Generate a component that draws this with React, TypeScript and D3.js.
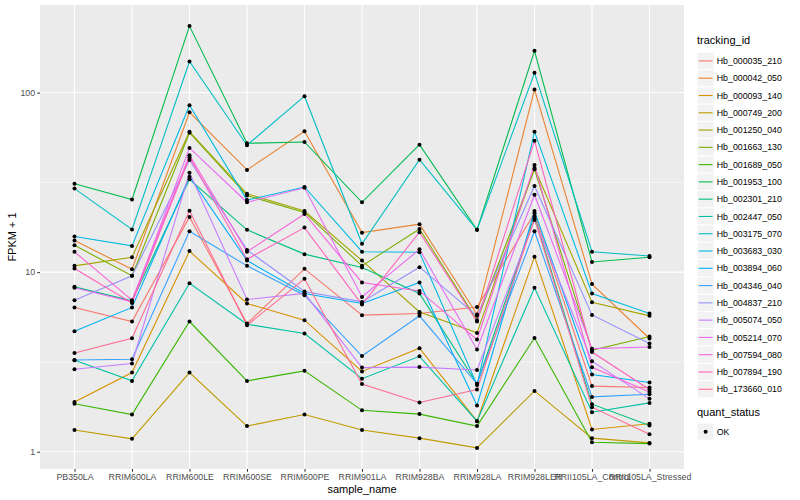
import React, { useEffect, useRef } from 'react';
import * as d3 from 'd3';

const sampleNames = [
  'PB350LA', 'RRIM600LA', 'RRIM600LE', 'RRIM600SE', 'RRIM600PE', 'RRIM901LA',
  'RRIM928BA', 'RRIM928LA', 'RRIM928LER', 'RRII105LA_Control', 'RRII105LA_Stressed',
];

const trackingIds = [
  'Hb_000035_210', 'Hb_000042_050', 'Hb_000093_140', 'Hb_000749_200', 'Hb_001250_040',
  'Hb_001663_130', 'Hb_001689_050', 'Hb_001953_100', 'Hb_002301_210', 'Hb_002447_050',
  'Hb_003175_070', 'Hb_003683_030', 'Hb_003894_060', 'Hb_004346_040', 'Hb_004837_210',
  'Hb_005074_050', 'Hb_005214_070', 'Hb_007594_080', 'Hb_007894_190', 'Hb_173660_010',
];

// FPKM per tracking id (rows), one value per sample (columns)
const fpkm: number[][] = [
  [5.36, 4.31, 19.3, 4.17, 9.43, 4.76, 4.89, 5.40, 20.3, 1.32, 1.28],
  [14.0, 9.39, 76.7, 36.1, 59.9, 15.6, 17.5, 4.81, 102.9, 7.58, 3.27],
  [0.89, 1.76, 12.1, 5.69, 4.40, 1.80, 2.77, 0.48, 11.2, 0.33, 0.43],
  [0.32, 0.18, 1.76, 0.39, 0.61, 0.32, 0.19, 0.05, 1.18, 0.19, 0.12],
  [9.84, 11.1, 59.6, 26.3, 20.9, 10.6, 5.00, 3.59, 37.0, 5.80, 4.71],
  [13.1, 8.54, 58.8, 25.7, 20.5, 9.84, 16.4, 4.40, 36.4, 2.67, 3.38],
  [0.85, 0.61, 4.31, 1.48, 1.82, 0.70, 0.62, 0.39, 3.30, 0.13, 0.11],
  [30.1, 24.4, 233.6, 51.2, 52.1, 23.5, 50.3, 16.2, 169.8, 10.4, 11.1],
  [7.28, 5.92, 31.9, 16.2, 11.6, 9.62, 6.61, 1.39, 19.5, 0.84, 0.40],
  [2.23, 1.48, 7.68, 4.13, 3.55, 1.55, 2.40, 0.48, 7.18, 0.66, 0.87],
  [28.2, 16.3, 147.9, 49.9, 94.5, 13.4, 41.3, 16.2, 127.8, 12.0, 11.3],
  [14.8, 13.0, 84.1, 24.2, 28.8, 12.0, 11.9, 1.35, 59.6, 6.61, 4.89],
  [3.69, 5.36, 33.0, 10.6, 6.61, 5.69, 7.76, 0.81, 20.9, 1.69, 1.43],
  [2.24, 2.27, 15.9, 9.84, 6.44, 2.41, 4.71, 1.39, 15.9, 1.02, 1.09],
  [5.98, 8.54, 41.1, 12.3, 6.80, 5.83, 9.66, 4.71, 29.2, 4.78, 3.00],
  [1.88, 2.10, 34.8, 6.04, 6.61, 1.94, 1.96, 1.85, 18.5, 2.19, 0.97],
  [7.18, 5.83, 48.2, 23.5, 28.5, 6.28, 12.4, 2.71, 26.0, 2.75, 2.83],
  [11.98, 5.98, 43.8, 11.98, 20.1, 7.76, 6.86, 3.21, 38.5, 1.95, 1.15],
  [9.49, 5.74, 42.6, 10.8, 16.7, 5.60, 15.7, 4.31, 53.0, 2.59, 1.22],
  [2.55, 3.28, 21.0, 4.06, 8.18, 1.38, 0.88, 1.22, 18.9, 0.77, 0.25],
];

const yBreaks = [1, 10, 100];
const quantStatus = ['OK'];

// ggplot2 default hue palette for 20 levels
const huePalette = [
  '#F8766D', '#EA8331', '#D89000', '#C09B00', '#A3A500', '#7CAE00', '#39B600',
  '#00BB4E', '#00BF7D', '#00C1A3', '#00BFC4', '#00BAE0', '#00B0F6', '#35A2FF',
  '#9590FF', '#C77CFF', '#E76BF3', '#FA62DB', '#FF62BC', '#FF6C91',
];

const font = '"Liberation Sans", Arial, sans-serif';

const App: React.FC = () => {
  const svgRef = useRef<SVGSVGElement | null>(null);

  useEffect(() => {
    if (!svgRef.current) return;
    const W = 800;
    const H = 500;
    const margin = { top: 5, right: 116, bottom: 31, left: 40 };

    const svg = d3.select(svgRef.current);
    svg.selectAll('*').remove();
    svg.attr('font-family', font);

    const x = d3.scalePoint<string>()
      .domain(sampleNames)
      .range([margin.left, W - margin.right])
      .padding(0.6);

    const all = fpkm.flat().map(v => v + 1);
    const lo = Math.log10(d3.min(all) || 1);
    const hi = Math.log10(d3.max(all) || 10);
    const pad = (hi - lo) * 0.05;
    const y = d3.scaleLog()
      .domain([10 ** (lo - pad), 10 ** (hi + pad)])
      .range([H - margin.bottom, margin.top]);

    const [y0, y1] = y.range();

    // panel
    svg.append('rect')
      .attr('x', margin.left).attr('y', margin.top)
      .attr('width', W - margin.right - margin.left)
      .attr('height', y0 - y1)
      .attr('fill', '#EBEBEB');

    const dom = y.domain();
    const ext = [yBreaks[0] / 10, ...yBreaks, yBreaks[yBreaks.length - 1] * 10];
    const minor = d3.pairs(ext).map(([a, b]) => Math.sqrt(a * b))
      .filter(v => v >= dom[0] && v <= dom[1]);

    svg.append('g').selectAll('line').data(minor).enter().append('line')
      .attr('x1', margin.left).attr('x2', W - margin.right)
      .attr('y1', d => y(d)).attr('y2', d => y(d))
      .attr('stroke', '#fff').attr('stroke-width', 0.53);

    svg.append('g').selectAll('line').data(yBreaks).enter().append('line')
      .attr('x1', margin.left).attr('x2', W - margin.right)
      .attr('y1', d => y(d)).attr('y2', d => y(d))
      .attr('stroke', '#fff').attr('stroke-width', 1.07);

    svg.append('g').selectAll('line').data(sampleNames).enter().append('line')
      .attr('x1', d => x(d) || 0).attr('x2', d => x(d) || 0)
      .attr('y1', y1).attr('y2', y0)
      .attr('stroke', '#fff').attr('stroke-width', 1.07);

    // series lines
    const line = d3.line<number>()
      .x((_, i) => x(sampleNames[i]) || 0)
      .y(d => y(d + 1));

    svg.append('g').selectAll('path').data(fpkm).enter().append('path')
      .attr('d', d => line(d) || '')
      .attr('fill', 'none')
      .attr('stroke', (_, i) => huePalette[i])
      .attr('stroke-width', 1.1);

    // points
    const pts = fpkm.flatMap(row => row.map((v, i) => ({ s: sampleNames[i], v })));
    svg.append('g').selectAll('circle').data(pts).enter().append('circle')
      .attr('cx', d => x(d.s) || 0)
      .attr('cy', d => y(d.v + 1))
      .attr('r', 2)
      .attr('fill', '#000');

    // y axis
    const yAxis = svg.append('g')
      .attr('transform', `translate(${margin.left},0)`)
      .call(d3.axisLeft(y).tickValues(yBreaks).tickFormat(d => String(d)).tickSize(2.75).tickPadding(2.2));
    yAxis.select('.domain').remove();
    yAxis.selectAll('line').attr('stroke', '#333333').attr('stroke-width', 1.07);
    yAxis.selectAll('text').attr('fill', '#4D4D4D').attr('font-size', 8.8).attr('font-family', font);

    // x axis
    const xAxis = svg.append('g')
      .attr('transform', `translate(0,${y0})`)
      .call(d3.axisBottom(x).tickSize(2.75).tickPadding(2.2));
    xAxis.select('.domain').remove();
    xAxis.selectAll('line').attr('stroke', '#333333').attr('stroke-width', 1.07);
    xAxis.selectAll('text').attr('fill', '#4D4D4D').attr('font-size', 8.8).attr('font-family', font);

    // axis titles
    svg.append('text')
      .attr('x', (margin.left + W - margin.right) / 2).attr('y', 493)
      .attr('text-anchor', 'middle').attr('font-size', 11).attr('fill', '#000')
      .text('sample_name');
    svg.append('text')
      .attr('transform', `translate(16,${(y0 + y1) / 2}) rotate(-90)`)
      .attr('text-anchor', 'middle').attr('font-size', 11).attr('fill', '#000')
      .text('FPKM + 1');

    // legend: tracking_id
    const lx = 697;
    const key = 17.28;
    const leg = svg.append('g');
    leg.append('text').attr('x', lx).attr('y', 44).attr('font-size', 11).text('tracking_id');
    const items = leg.selectAll('g.item').data(trackingIds).enter().append('g')
      .attr('transform', (_, i) => `translate(${lx},${52.3 + i * key})`);
    items.append('rect')
      .attr('width', key).attr('height', key)
      .attr('fill', '#F2F2F2').attr('stroke', '#fff').attr('stroke-width', 1);
    items.append('line')
      .attr('x1', 1.7).attr('x2', key - 1.7)
      .attr('y1', key / 2).attr('y2', key / 2)
      .attr('stroke', (_, i) => huePalette[i]).attr('stroke-width', 1.1);
    items.append('text')
      .attr('x', key + 2.5).attr('y', key / 2 + 3.1)
      .attr('font-size', 8.8).text(d => d);

    // legend: quant_status
    const q = svg.append('g');
    q.append('text').attr('x', lx).attr('y', 416).attr('font-size', 11).text('quant_status');
    const qi = q.selectAll('g.item').data(quantStatus).enter().append('g')
      .attr('transform', (_, i) => `translate(${lx},${423 + i * key})`);
    qi.append('rect')
      .attr('width', key).attr('height', key)
      .attr('fill', '#F2F2F2').attr('stroke', '#fff').attr('stroke-width', 1);
    qi.append('circle').attr('cx', key / 2).attr('cy', key / 2).attr('r', 2).attr('fill', '#000');
    qi.append('text')
      .attr('x', key + 2.5).attr('y', key / 2 + 3.1)
      .attr('font-size', 8.8).text(d => d);
  }, []);

  return (
    <svg
      ref={svgRef}
      width={800}
      height={500}
      style={{ position: 'absolute', left: 0, top: 0, background: '#fff' }}
    />
  );
};

export default App;
